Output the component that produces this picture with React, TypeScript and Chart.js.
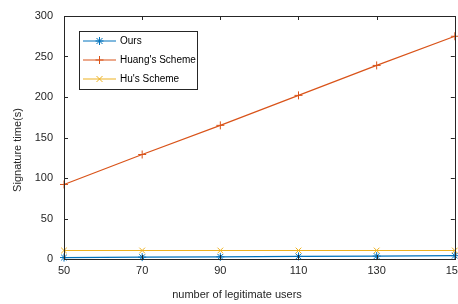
import React, { useEffect, useRef } from "react";
import { Chart, registerables } from "chart.js";

Chart.register(...registerables);

const users = [50, 70, 90, 110, 130, 150];
const oursTime = [1.8, 2.3, 2.7, 3.2, 3.6, 4.1];
const huangTime = [92, 129, 165, 202, 239, 275];
const huTime = [10.5, 10.5, 10.5, 10.5, 10.5, 10.5];
const seriesNames = ["Ours", "Huang's Scheme", "Hu's Scheme"];
const seriesColors = ["#0072BD", "#D95319", "#EDB120"];
const seriesMarkers = ["star", "cross", "crossRot"];
const xTitle = "number of legitimate users";
const yTitle = "Signature time(s)";

const FONT = "'Liberation Sans', Arial, sans-serif";

const framePlugin = {
  id: "frame",
  afterDraw(chart: any) {
    const ctx = chart.ctx;
    const a = chart.chartArea;
    const xs = chart.scales.x;
    const ys = chart.scales.y;
    ctx.save();
    ctx.strokeStyle = "#262626";
    ctx.lineWidth = 1;
    ctx.strokeRect(Math.round(a.left) + 0.5, Math.round(a.top) + 0.5, Math.round(a.right - a.left), Math.round(a.bottom - a.top));
    const tl = 4;
    ctx.beginPath();
    xs.ticks.forEach((t: any) => {
      const px = Math.round(xs.getPixelForValue(t.value)) + 0.5;
      ctx.moveTo(px, a.bottom);
      ctx.lineTo(px, a.bottom - tl);
      ctx.moveTo(px, a.top);
      ctx.lineTo(px, a.top + tl);
    });
    ys.ticks.forEach((t: any) => {
      const py = Math.round(ys.getPixelForValue(t.value)) + 0.5;
      ctx.moveTo(a.left, py);
      ctx.lineTo(a.left + tl, py);
      ctx.moveTo(a.right, py);
      ctx.lineTo(a.right - tl, py);
    });
    ctx.stroke();

    // axis titles
    ctx.fillStyle = "#262626";
    ctx.font = `11px ${FONT}`;
    ctx.textAlign = "center";
    ctx.textBaseline = "middle";
    ctx.fillText(xTitle, 237, 295);
    ctx.save();
    ctx.translate(18, 150);
    ctx.rotate(-Math.PI / 2);
    ctx.fillText(yTitle, 0, 0);
    ctx.restore();

    // legend
    const lx = 79.5, ly = 31.5, lw = 118, lh = 58;
    ctx.fillStyle = "#ffffff";
    ctx.fillRect(lx, ly, lw, lh);
    ctx.strokeStyle = "#262626";
    ctx.strokeRect(lx, ly, lw, lh);
    seriesNames.forEach((name, i) => {
      const y = 41 + i * 19;
      ctx.strokeStyle = seriesColors[i];
      ctx.lineWidth = 1;
      ctx.beginPath();
      ctx.moveTo(83, y);
      ctx.lineTo(116, y);
      ctx.stroke();
      ctx.lineWidth = 1;
      ctx.beginPath();
      const r = 4;
      const cx = 99.5;
      if (i === 0 || i === 1) {
        ctx.moveTo(cx - r, y); ctx.lineTo(cx + r, y);
        ctx.moveTo(cx, y - r); ctx.lineTo(cx, y + r);
      }
      if (i === 0 || i === 2) {
        const d = r * 0.75;
        ctx.moveTo(cx - d, y - d); ctx.lineTo(cx + d, y + d);
        ctx.moveTo(cx - d, y + d); ctx.lineTo(cx + d, y - d);
      }
      ctx.stroke();
      ctx.fillStyle = "#000000";
      ctx.font = `10px ${FONT}`;
      ctx.textAlign = "left";
      ctx.textBaseline = "middle";
      ctx.fillText(name, 120, y);
    });
    ctx.restore();
  },
};

export default function App() {
  const ref = useRef<HTMLCanvasElement>(null);
  useEffect(() => {
    if (!ref.current) return;
    const data = [oursTime, huangTime, huTime];
    const chart = new Chart(ref.current, {
      type: "line",
      data: {
        datasets: seriesNames.map((name, i) => ({
          label: name,
          data: users.map((u, j) => ({ x: u, y: data[i][j] })),
          borderColor: seriesColors[i],
          backgroundColor: seriesColors[i],
          borderWidth: 1.2,
          pointStyle: seriesMarkers[i] as any,
          pointRadius: 4,
          pointBorderWidth: 1,
          pointBorderColor: seriesColors[i],
          tension: 0,
          fill: false,
          clip: false as any,
        })),
      },
      options: {
        responsive: false,
        animation: false,
        layout: { padding: { top: 16, right: 11, left: 0, bottom: 0 } },
        plugins: { legend: { display: false }, tooltip: { enabled: false } },
        scales: {
          x: {
            type: "linear",
            min: 50,
            max: 150,
            grid: { display: false, drawTicks: false },
            border: { display: false },
            ticks: {
              stepSize: 20,
              color: "#262626",
              font: { family: FONT, size: 11 },
              padding: 5,
              maxRotation: 0,
            },
            afterFit: (s: any) => {
              s.height = 45;
            },
          },
          y: {
            min: 0,
            max: 300,
            grid: { display: false, drawTicks: false },
            border: { display: false },
            ticks: {
              stepSize: 50,
              color: "#262626",
              font: { family: FONT, size: 11 },
              padding: 11,
            },
            afterFit: (s: any) => {
              s.width = 64;
              s.paddingTop = 0;
              s.paddingBottom = 0;
            },
          },
        },
      },
      plugins: [framePlugin],
    });
    return () => chart.destroy();
  }, []);
  return (
    <div style={{ position: "fixed", left: 0, top: 0, width: 469, height: 304, background: "#fff" }}>
      <canvas ref={ref} width={469} height={304} style={{ display: "block" }} />
    </div>
  );
}
